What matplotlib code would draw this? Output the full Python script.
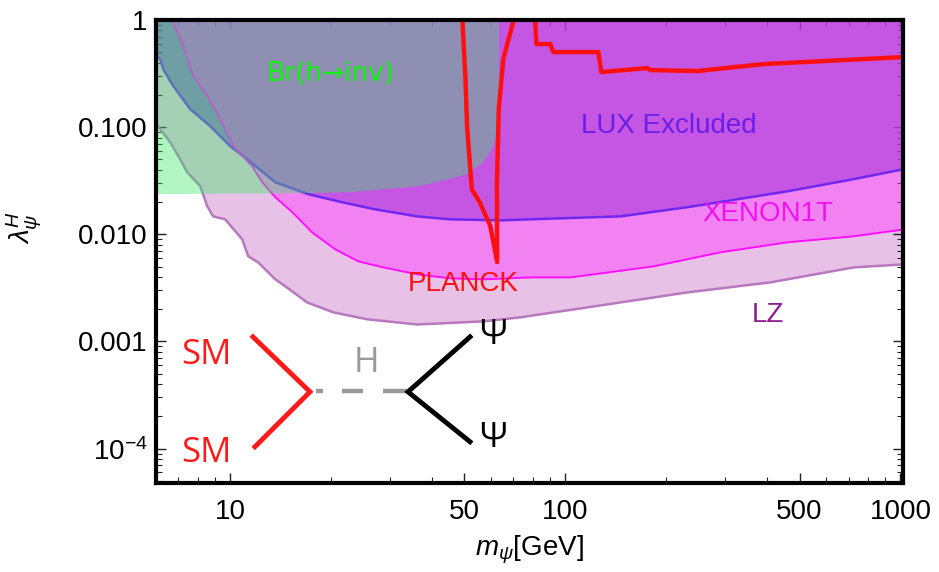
import numpy as np
import matplotlib
matplotlib.use("Agg")
import matplotlib.pyplot as plt

# Dark-matter mass m_psi [GeV] and Higgs-portal coupling lambda_psi^H limits
lux_m = [6.0, 6.18, 6.31, 6.76, 7.60, 8.72, 10.0, 11.24, 13.63, 17.09, 21.59, 27.09,
         36.15, 45.36, 63.97, 96.6, 145.9, 231.3, 460.0, 723.8, 1021]
lux_lam = [0.471, 0.432, 0.348, 0.242, 0.147, 0.102, 0.0665, 0.0502, 0.0306, 0.0237,
           0.0199, 0.0171, 0.0147, 0.0138, 0.0135, 0.0141, 0.0147, 0.0179, 0.0252,
           0.0327, 0.0405]

xenon_m = [6.6, 6.71, 7.24, 7.76, 8.54, 9.34, 10.21, 11.63, 12.46, 13.63, 15.31, 17.57,
           20.58, 24.11, 28.62, 36.15, 45.36, 56.91, 78.65, 103.5, 183.1, 290.2, 460.0,
           723.8, 1021]
xenon_lam = [1.15, 1.0, 0.571, 0.300, 0.195, 0.119, 0.0665, 0.0432, 0.0306, 0.0222,
             0.0161, 0.0104, 0.00724, 0.00559, 0.00491, 0.00423, 0.00388, 0.00380,
             0.00396, 0.00396, 0.00502, 0.00679, 0.00842, 0.00958, 0.0111]

lz_m = [6.0, 6.18, 6.62, 7.09, 7.44, 8.14, 8.54, 8.90, 9.66, 10.86, 11.32, 12.12, 13.63,
        14.60, 16.98, 20.30, 25.64, 36.15, 56.91, 73.4, 116.4, 231.3, 409.2, 723.8, 1021]
lz_lam = [0.109, 0.0958, 0.0724, 0.0502, 0.0380, 0.0281, 0.0183, 0.0147, 0.0138, 0.00898,
          0.00623, 0.00547, 0.00380, 0.00327, 0.00231, 0.00187, 0.00161, 0.00144, 0.00154,
          0.00168, 0.00208, 0.00287, 0.00356, 0.00491, 0.00524]

# Higgs invisible branching-ratio bound (closes at m_h / 2)
br_m = [6.0, 16.2, 22.8, 36.2, 42.4, 50.9, 56.9, 61.0, 63.1, 63.4, 63.4]
br_lam = [0.0237, 0.0242, 0.0247, 0.0281, 0.0313, 0.0364, 0.0471, 0.0665, 0.102, 0.18, 1.0]

# Planck relic-density contour: resonance funnel and high-mass branch
planck_res_m = [49.2, 50.3, 50.9, 52.6, 55.6, 59.7, 62.6, 62.5, 63.3, 65.3, 70.0, 71.0]
planck_res_lam = [1.1, 0.302, 0.103, 0.0263, 0.0198, 0.0120, 0.0055, 0.030, 0.147, 0.432,
                  0.98, 1.1]
planck_hi_m = [81.3, 81.9, 90.2, 92.1, 125.5, 128.1, 175.7, 179.4, 247.7, 389.9, 1021]
planck_hi_lam = [1.1, 0.597, 0.597, 0.502, 0.502, 0.327, 0.356, 0.341, 0.334, 0.388, 0.451]

xticks = [10, 50, 100, 500, 1000]
xticklabels = ["10", "50", "100", "500", "1000"]
yticks = [1e-4, 1e-3, 1e-2, 1e-1, 1]
yticklabels = [r"$10^{-4}$", "0.001", "0.010", "0.100", "1"]

plt.rcParams['font.family'] = ['Liberation Sans', 'DejaVu Sans']
plt.rcParams['mathtext.fontset'] = 'custom'
plt.rcParams['mathtext.rm'] = 'Liberation Sans'
plt.rcParams['mathtext.it'] = 'Liberation Sans:italic'
plt.rcParams['mathtext.bf'] = 'Liberation Sans:bold'

fig = plt.figure(figsize=(9.39, 5.72), dpi=100)
ax = fig.add_axes([0.166, 0.156, 0.796, 0.809])
ax.set_xscale('log')
ax.set_yscale('log')
ax.set_xlim(6.0, 1020)
ax.set_ylim(4.8e-5, 1)

ceil = 3.0
ax.fill_between(lz_m, lz_lam, ceil, color='#e8c2e6', lw=0, zorder=1)
ax.fill_between(lux_m, lux_lam, ceil, color='#5a3cbe', alpha=0.62, lw=0, zorder=2)
ax.fill_between(xenon_m, xenon_lam, ceil, color='#ff3cff', alpha=0.48, lw=0, zorder=3)
ax.plot(lz_m, lz_lam, color='#b878c0', lw=1.8, zorder=4)
ax.plot(lux_m, lux_lam, color='#7028f0', lw=1.8, zorder=4)
ax.plot(xenon_m, xenon_lam, color='#ff10ff', lw=1.4, zorder=4)

br_x = [5.0] + br_m + [br_m[-1], 5.0]
br_y = [br_lam[0]] + br_lam + [ceil, ceil]
ax.fill(br_x, br_y, color='#3ee66b', alpha=0.4, lw=0, zorder=5)

ax.plot(planck_res_m, planck_res_lam, color='#ff1010', lw=3.2, zorder=6)
ax.plot(planck_hi_m, planck_hi_lam, color='#ff1010', lw=3.2, zorder=6)

lab = dict(fontsize=20, ha='center', va='center', zorder=7)
ax.text(19.9, 0.313, "Br(h\u2192inv)", color='#0cf50c', fontsize=19, ha='center',
        va='center', zorder=7, family=['DejaVu Sans'])
ax.text(203, 0.102, "LUX Excluded", color='#6a1ee8', **lab)
ax.text(401, 0.0154, "XENON1T", color='#f010f0', **lab)
ax.text(49.6, 0.00341, "PLANCK", color='#ff1010', **lab)
ax.text(403, 0.00175, "LZ", color='#901890', **lab)

# s-channel Higgs exchange diagram
tr = ax.transAxes
ax.plot([0.1299, 0.2062, 0.1325], [0.3153, 0.1965, 0.0778], transform=tr,
        color='#ff1a1a', lw=3.5, zorder=8, solid_joinstyle='miter')
for x0, x1 in [(0.2142, 0.2236), (0.2490, 0.2771), (0.3039, 0.3360)]:
    ax.plot([x0, x1], [0.1990, 0.1990], transform=tr, color='#999999', lw=3.2,
            solid_capstyle='butt', zorder=8)
ax.plot([0.4203, 0.3373, 0.4203], [0.3153, 0.1965, 0.0886], transform=tr,
        color='black', lw=3.5, zorder=8, solid_joinstyle='miter')
dg = dict(transform=tr, ha='center', va='center', fontsize=25,
          family=['Open Sans', 'DejaVu Sans'], zorder=8)
ax.text(0.0669, 0.2765, "SM", color='#ff1a1a', **dg)
ax.text(0.0669, 0.0648, "SM", color='#ff1a1a', **dg)
ax.text(0.2811, 0.2592, "H", color='#999999', **dg)
ax.text(0.4511, 0.3197, "\u03a8", color='black', **dg)
ax.text(0.4511, 0.0972, "\u03a8", color='black', **dg)

ax.set_xticks(xticks)
ax.set_xticklabels(xticklabels)
ax.set_yticks(yticks)
ax.set_yticklabels(yticklabels)
ax.tick_params(which='both', direction='in', top=True, right=True, labelsize=20,
               color='#222222')
ax.tick_params(which='major', length=7, width=1)
ax.tick_params(which='minor', length=4, width=0.8)
ax.tick_params(axis='x', which='major', pad=12)
ax.tick_params(axis='y', which='major', pad=6)
for s in ax.spines.values():
    s.set_linewidth(3)
    s.set_zorder(10)

ax.set_xlabel(r"$m_\psi$[GeV]", fontsize=20, labelpad=6)
ax.set_ylabel(r"$\lambda_\psi^{H}$", fontsize=20)
ax.yaxis.set_label_coords(-0.150, 0.551)

fig.savefig("out.png", dpi=100)
